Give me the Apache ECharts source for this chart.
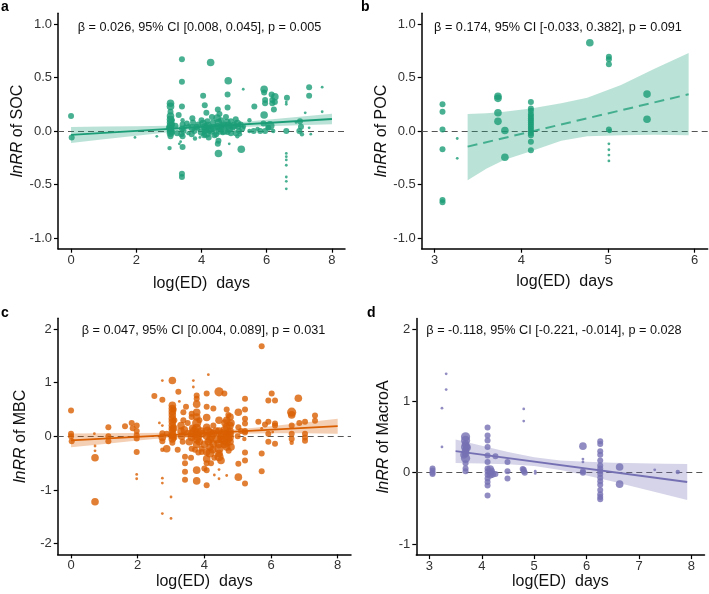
<!DOCTYPE html>
<html>
<head>
<meta charset="utf-8">
<script src="https://cdn.jsdelivr.net/npm/echarts@6/dist/echarts.min.js"></script>
<style>html,body{margin:0;padding:0;background:#fff}#c{width:709px;height:594px}</style>
</head>
<body>
<div id="c"></div>
<script>
// ---------- data (x = log(ED) days, y = lnRR, w = weight class) ----------
const socPts = [
[0,0.14,3],[0.02,-0.06,3],[1.96,-0.06,1],[2.63,-0.05,1],
[3.05,0.26,4],[3.05,0.23,4],[3.05,0.18,3],[3.05,0.14,4],[3.05,0.11,4],[3.05,0.08,4],[3.05,0.05,4],[3.05,0.02,4],[3.05,0.0,4],[3.05,-0.02,4],[3.05,-0.05,3],[3.02,-0.16,2],[3.1,0.06,3],[3.1,-0.01,3],[3.0,0.03,3],[3.12,0.1,2],
[3.2,0.05,3],[3.25,-0.02,3],[3.3,0.15,3],
[3.4,0.67,3],[3.4,0.46,3],[3.4,0.23,3],[3.42,0.1,2],[3.42,0.06,3],[3.4,0.02,3],[3.45,0.0,3],[3.38,-0.03,3],[3.42,-0.05,3],[3.36,-0.1,1],[3.42,-0.15,3],[3.4,-0.4,3],[3.4,-0.43,3],[3.32,-0.12,1],[3.5,0.04,2],
[3.55,0.07,3],[3.62,0.05,2],[3.72,0.12,3],[3.74,0.08,3],[3.72,0.03,4],[3.78,0.0,3],[3.7,-0.03,3],[3.8,-0.07,2],[3.6,-0.02,2],[3.85,0.04,3],[3.9,0.02,2],[3.95,-0.06,1],[3.9,0.06,3],
[4.05,0.33,3],[4.1,0.24,3],[4.0,0.1,3],[4.05,0.07,4],[4.1,0.04,4],[4.12,0.01,4],[4.15,-0.02,5],[4.2,0.05,4],[4.25,0.02,5],[4.18,0.09,3],[4.08,-0.04,3],[4.28,0.64,4],[4.3,0.0,4],[4.22,-0.06,3],[4.35,0.08,3],[4.38,0.03,4],[4.32,0.13,3],[4.0,-0.01,4],[4.15,0.17,3],[4.4,-0.04,3],
[4.5,0.2,3],[4.48,0.12,4],[4.52,0.08,4],[4.5,0.04,4],[4.55,0.0,4],[4.45,-0.03,3],[4.52,-0.09,3],[4.5,-0.12,3],[4.52,-0.21,4],[4.6,0.1,3],[4.62,0.05,3],[4.65,-0.02,2],[4.6,0.02,4],[4.55,0.16,3],[4.7,0.0,4],
[4.82,0.47,4],[4.8,0.34,3],[4.8,0.22,3],[4.75,0.13,3],[4.78,0.08,4],[4.82,0.05,4],[4.85,0.02,4],[4.8,-0.01,3],[4.7,0.06,3],[4.9,0.09,3],[4.85,-0.12,1],[4.95,0.03,3],[4.9,-0.02,3],
[5.05,0.11,3],[5.1,0.07,4],[5.12,0.04,3],[5.15,0.0,3],[5.18,-0.03,2],[5.22,-0.17,4],[5.28,0.39,1],[5.2,0.06,3],[5.25,0.02,3],[5.1,-0.05,2],[5.3,0.04,2],[5.0,0.05,4],[5.05,-0.02,3],
[5.47,0.1,2],[5.47,0.0,2],[5.62,0.23,3],[5.6,0.0,3],[5.72,0.02,2],[5.8,0.0,3],
[5.92,0.39,4],[5.92,0.36,3],[5.95,0.29,3],[5.95,0.26,3],[5.92,0.15,4],[5.9,0.07,3],[5.95,0.0,3],[6.15,0.34,3],[6.17,0.29,3],[6.17,0.26,3],[6.25,0.32,4],[6.25,0.27,3],[6.22,0.2,3],[6.05,0.03,3],[6.2,0.0,2],[6.1,0.05,5],
[6.62,0.31,3],[6.6,0.27,1],[6.6,0.25,1],[6.6,0.0,3],[6.6,-0.21,1],[6.6,-0.24,1],[6.6,-0.27,1],[6.6,-0.32,1],[6.6,-0.43,1],[6.6,-0.47,1],[6.6,-0.54,1],
[6.9,0.08,1],[7.02,0.09,3],[7.05,0.04,3],[7.0,0.0,3],[7.18,0.17,1],[7.08,-0.03,2],[7.3,0.41,3],[7.3,0.33,3],[7.3,0.03,1],[7.35,-0.03,1],[7.7,0.41,1],[7.7,0.18,1]
];
const pocPts = [
[3.09,0.25,3],[3.09,0.18,3],[3.09,0.015,3],[3.09,-0.17,3],[3.09,-0.645,3],[3.09,-0.665,3],
[3.26,-0.07,1],[3.26,-0.255,1],
[3.73,0.325,4],[3.73,0.305,4],[3.73,0.17,4],[3.73,0.09,4],
[3.81,0.005,4],[3.81,-0.245,4],
[4.11,0.27,3],[4.11,0.21,3],[4.11,0.19,3],[4.11,0.16,3],[4.11,0.14,3],[4.11,0.12,3],[4.11,0.1,3],[4.11,0.08,3],[4.11,0.06,3],[4.11,0.04,3],[4.11,0.02,3],[4.11,0.0,3],[4.11,-0.02,3],[4.11,-0.04,3],[4.11,-0.1,3],[4.11,-0.18,3],
[4.79,0.825,4],
[5.01,0.695,3],[5.01,0.67,3],[5.01,0.625,3],[5.01,0.015,3],[5.02,0.0,2],[5.01,-0.12,1],[5.01,-0.175,1],[5.01,-0.225,1],[5.01,-0.28,1],
[5.45,0.345,4],[5.45,0.11,4]
];
const mbcPts = [
[0,0.48,3],[0,0.05,3],[0,0.0,3],[0.02,-0.09,3],
[0.7,0.05,1],[0.72,-0.18,1],[0.72,-0.27,1],[0.72,-0.4,4],[0.72,-1.22,4],
[1.12,0.17,3],[1.12,0.0,3],[1.12,-0.09,3],
[1.62,0.19,3],[1.82,0.25,3],[1.85,0.15,3],
[1.97,0.2,3],[1.97,0.1,3],[1.97,0.02,3],[1.97,-0.04,3],[1.97,-0.29,3],[1.97,-0.71,1],[1.97,-0.79,1],
[2.5,0.75,3],
[2.74,1.04,1],[2.74,0.68,3],[2.74,0.2,1],[2.74,0.06,3],[2.74,-0.02,4],[2.74,-0.09,3],[2.74,-0.25,2],[2.74,-0.78,1],[2.74,-0.87,1],[2.74,-1.44,1],
[2.87,-0.23,4],[2.87,0.05,3],[2.65,0.25,1],
[3.04,1.04,4],[3.04,0.58,4],[3.04,0.52,4],[3.04,0.46,4],[3.04,0.4,4],[3.04,0.33,4],[3.04,0.27,4],[3.04,0.2,4],[3.04,0.14,4],[3.04,0.08,4],[3.04,0.02,4],[3.04,-0.05,4],[3.04,-0.12,3],[3.0,-1.13,1],[3.0,-1.53,1],[3.1,0.3,3],[3.1,-0.02,3],
[3.04,0.0,4],[3.08,0.5,3],[3.08,0.15,4],[3.2,-0.25,3],
[3.22,0.83,3],[3.3,0.1,4],[3.32,0.0,4],[3.35,-0.1,3],[3.37,0.45,3],[3.37,0.3,3],[3.4,0.12,4],[3.42,-0.38,3],[3.42,-0.5,3],[3.42,-0.66,3],[3.42,-0.81,3],[3.25,0.65,1],[3.3,0.2,4],[3.45,0.55,3],
[3.5,0.05,4],[3.55,-0.1,4],[3.5,0.25,3],[3.6,-0.4,3],
[3.62,0.42,3],[3.62,0.36,3],[3.62,0.05,4],[3.62,-0.02,4],[3.62,-0.23,3],[3.67,0.92,1],[3.67,1.04,1],[3.65,0.15,4],
[3.77,0.76,3],[3.77,0.7,3],[3.77,0.6,4],[3.77,0.45,4],[3.77,0.36,4],[3.77,0.25,5],[3.77,0.15,5],[3.77,0.05,5],[3.77,-0.05,5],[3.77,-0.15,4],[3.77,-0.63,4],[3.77,-0.83,4],[3.85,0.3,3],[3.82,-0.3,3],[3.72,-0.25,3],
[3.7,0.1,5],[3.8,0.0,5],[3.85,-0.1,4],[3.95,0.05,4],
[3.92,-0.23,3],[3.92,-0.29,3],[3.9,0.1,4],
[4.0,-0.15,4],[4.0,-0.6,3],
[4.07,0.8,3],[4.07,0.55,3],[4.07,0.35,4],[4.07,0.17,4],[4.07,0.0,4],[4.07,-0.29,4],[4.07,-0.42,4],[4.07,-0.5,3],[4.07,-0.63,3],[4.07,-0.91,3],[4.12,1.15,1],[4.12,-0.1,4],[4.17,0.08,4],[4.17,-0.06,4],[4.17,-0.2,4],[4.17,-0.31,5],
[4.1,0.1,5],[4.2,0.0,5],[4.25,-0.25,4],[4.2,-0.5,3],
[4.27,0.52,3],[4.27,0.2,3],[4.27,0.05,4],[4.27,-0.14,4],[4.3,-0.4,3],[4.3,-0.72,1],
[4.35,0.1,4],[4.38,-0.05,5],
[4.44,0.83,5],[4.44,0.3,4],[4.44,0.1,4],[4.44,-0.14,5],[4.44,-0.23,5],[4.44,-0.32,4],[4.44,-0.38,5],[4.44,-0.62,1],[4.44,-0.79,1],[4.5,0.0,4],[4.5,-0.05,4],[4.5,-0.45,4],
[4.55,0.05,5],[4.6,-0.15,4],[4.62,0.25,4],[4.7,-0.05,5],[4.75,0.05,5],[4.8,-0.2,4],[4.8,0.25,4],
[4.6,0.8,3],[4.67,0.5,3],[4.67,0.3,4],[4.67,0.18,4],[4.67,0.05,4],[4.67,0.0,4],[4.67,-0.12,4],[4.67,-0.2,4],[4.67,-0.73,1],[4.72,0.4,3],[4.77,0.36,4],[4.77,0.2,4],[4.77,0.1,4],[4.77,-0.02,4],[4.77,-0.1,4],[4.73,-0.27,3],[4.6,0.12,4],[4.57,-0.08,4],
[5.02,0.45,4],[5.02,0.17,3],[5.0,0.0,3],[5.02,-0.51,3],[5.02,-0.76,4],[5.1,0.1,3],
[5.22,0.7,3],[5.22,0.5,3],[5.22,0.33,3],[5.22,0.24,3],[5.22,0.1,3],[5.22,0.07,3],[5.22,-0.3,3],[5.22,-0.45,3],[5.22,-0.88,3],[5.2,-0.05,2],
[5.62,0.27,3],[5.72,1.68,3],[5.72,-0.32,3],[5.72,-0.65,3],[5.72,0.15,1],[5.82,0.22,3],[5.92,0.67,3],[5.92,0.27,3],[5.92,0.05,3],[5.92,-0.1,3],[6.02,0.8,3],[6.12,0.67,3],[6.12,0.24,3],[6.12,0.2,3],[6.12,-0.14,3],[6.05,0.08,1],
[6.62,0.45,5],[6.62,0.4,4],[6.62,0.2,3],[6.62,0.05,3],[6.62,-0.05,3],[6.62,-0.12,2],[6.82,0.71,4],[6.85,0.25,3],[7.02,0.27,3],[7.02,0.05,3],[7.02,-0.02,3],[7.02,-0.08,3],[7.32,0.39,3],[7.32,0.29,3]
];
const macroPts = [
[3.06,0.06,3],[3.06,0.03,3],[3.06,0.0,3],[3.06,-0.02,3],
[3.24,0.9,1],[3.24,0.36,1],[3.32,1.38,1],[3.32,1.16,1],
[3.69,0.5,5],[3.69,0.45,5],[3.69,0.4,4],[3.69,0.36,5],[3.69,0.31,4],[3.69,0.27,4],[3.69,0.2,5],[3.69,0.13,3],[3.69,0.06,3],[3.69,0.02,3],[3.72,0.35,4],[3.66,0.25,4],
[4.11,0.63,3],[4.11,0.52,3],[4.11,0.45,3],[4.11,0.36,3],[4.11,0.24,3],[4.11,0.15,3],[4.11,0.06,3],[4.11,0.02,3],[4.11,-0.03,3],[4.11,-0.08,3],[4.11,-0.13,3],[4.11,-0.18,3],[4.11,-0.32,3],
[4.16,0.05,4],[4.16,0.0,4],[4.16,-0.03,4],[4.18,0.02,4],[4.2,-0.02,4],[4.26,0.23,3],[4.26,-0.02,3],
[4.49,0.15,3],[4.49,0.02,3],[4.49,-0.08,3],
[4.8,0.89,1],[4.8,0.72,1],[4.78,0.05,3],[4.8,0.02,3],[4.82,0.0,3],[4.8,0.04,3],
[5.02,0.02,1],[5.02,-0.01,1],
[5.93,0.37,4],[5.93,0.19,1],[5.93,0.15,1],[5.93,0.02,3],[5.93,0.0,3],
[6.26,0.44,3],[6.26,0.4,3],[6.26,0.3,3],[6.26,0.25,3],[6.26,0.17,3],[6.26,0.1,3],[6.26,0.06,3],[6.26,0.02,3],[6.26,-0.02,3],[6.26,-0.07,3],[6.26,-0.12,3],[6.26,-0.17,3],[6.26,-0.24,3],[6.26,-0.3,3],[6.26,-0.34,3],[6.26,-0.37,3],
[6.63,0.08,4],[6.63,-0.16,4],
[7.3,0.04,1],[7.74,0.01,2]
];

// fitted lines (start, end)
const socFit = [[0,-0.037],[8,0.112]];
const pocFit = [[3.38,-0.146],[5.93,0.343]];
const mbcFit = [[0,-0.075],[8,0.19]];
const macroFit = [[3.5,0.3],[7.92,-0.13]];

// 95% confidence ribbons
const socBandX  = [0,1,2,3,4.3,5,6,7,8];
const socBandLo = [-0.112,-0.078,-0.045,-0.011,0.023,0.034,0.045,0.053,0.062];
const socBandHi = [0.038,0.042,0.045,0.049,0.063,0.078,0.105,0.133,0.162];
const pocBandX  = [3.38,3.6,3.8,4.11,4.46,4.76,5.15,5.53,5.93];
const pocBandLo = [-0.46,-0.35,-0.27,-0.19,-0.09,-0.05,-0.04,-0.035,-0.04];
const pocBandHi = [0.16,0.165,0.18,0.21,0.26,0.31,0.43,0.58,0.73];
const mbcBandX  = [0,1,2,3,4,5,6,7,8];
const mbcBandLo = [-0.205,-0.142,-0.079,-0.021,0.022,0.05,0.058,0.056,0.05];
const mbcBandHi = [0.055,0.058,0.061,0.069,0.092,0.13,0.188,0.256,0.33];
const macroBandX  = [3.5,4,4.5,5,5.5,6,6.5,7,7.5,7.92];
const macroBandLo = [0.136,0.127,0.116,0.092,0.039,-0.038,-0.123,-0.212,-0.303,-0.382];
const macroBandHi = [0.464,0.375,0.29,0.216,0.171,0.152,0.139,0.132,0.125,0.122];

// tick labels
const xTicksAC = [0,2,4,6,8];
const xTicksB = [3,4,5,6];
const xTicksD = [3,4,5,6,7,8];
const yTicksAB = [-1,-0.5,0,0.5,1];
const yTicksC = [-2,-1,0,1,2];
const yTicksD = [-1,0,1,2];

// texts
const yNames = ['SOC','POC','MBC','MacroA'];
const notes = [
 'β = 0.026, 95% CI [0.008, 0.045], p = 0.005',
 'β = 0.174, 95% CI [-0.033, 0.382], p = 0.091',
 'β = 0.047, 95% CI [0.004, 0.089], p = 0.031',
 'β = -0.118, 95% CI [-0.221, -0.014], p = 0.028'
];
const letters = ['a','b','c','d'];
const xTitle = 'log(ED)  days';

// ---------- layout / style ----------
const FONT = '"Liberation Sans", Arial, Helvetica, sans-serif';
const panels = [
 {pts:socPts, fit:socFit, band:[socBandX,socBandLo,socBandHi], color:'#1b9e77', dashed:false,
  grid:{left:58,top:13.3,width:287,height:235.4}, xr:[-0.4,8.4], yr:[-1.1,1.1], xt:xTicksAC, yt:yTicksAB, dec:1,
  xGap:27, yGap:30, nx:199.5, ny:27, lx:1, ly:7},
 {pts:pocPts, fit:pocFit, band:[pocBandX,pocBandLo,pocBandHi], color:'#1b9e77', dashed:true,
  grid:{left:421.7,top:13.3,width:286,height:235.4}, xr:[2.85,6.15], yr:[-1.1,1.1], xt:xTicksB, yt:yTicksAB, dec:1,
  xGap:25, yGap:29, nx:558, ny:27, lx:361, ly:7},
 {pts:mbcPts, fit:mbcFit, band:[mbcBandX,mbcBandLo,mbcBandHi], color:'#d95f02', dashed:false,
  grid:{left:57.7,top:318.3,width:293.3,height:236.1}, xr:[-0.4,8.4], yr:[-2.2,2.2], xt:xTicksAC, yt:yTicksC, dec:0,
  xGap:18, yGap:29, nx:203.5, ny:330, lx:1, ly:313},
 {pts:macroPts, fit:macroFit, band:[macroBandX,macroBandLo,macroBandHi], color:'#7570b3', dashed:false,
  grid:{left:416.3,top:318.6,width:288.2,height:236.5}, xr:[2.75,8.25], yr:[-1.15,2.15], xt:xTicksD, yt:yTicksD, dec:0,
  xGap:17, yGap:25, nx:554, ny:330, lx:367, ly:313}
];

const grids=[], xAxes=[], yAxes=[], series=[], graphics=[];
panels.forEach((p,i)=>{
  grids.push(Object.assign({containLabel:false}, p.grid));
  const axisCommon = {
    axisLine:{show:true,onZero:false,lineStyle:{color:'#000',width:1.5}},
    axisTick:{show:true,inside:false,length:4,lineStyle:{color:'#000',width:1.2}},
    splitLine:{show:false}
  };
  xAxes.push(Object.assign({}, axisCommon, {
    type:'value', gridIndex:i, min:p.xr[0], max:p.xr[1],
    axisTick:Object.assign({}, axisCommon.axisTick, {customValues:p.xt}),
    axisLabel:{customValues:p.xt, margin:5, fontSize:13, color:'#333', fontFamily:FONT},
    name:xTitle, nameLocation:'middle', nameGap:p.xGap,
    nameTextStyle:{fontSize:16, color:'#111', fontFamily:FONT}
  }));
  yAxes.push(Object.assign({}, axisCommon, {
    type:'value', gridIndex:i, min:p.yr[0], max:p.yr[1],
    axisTick:Object.assign({}, axisCommon.axisTick, {customValues:p.yt}),
    axisLabel:{customValues:p.yt, margin:6, fontSize:13, color:'#333', fontFamily:FONT,
      formatter:(v)=>Number(v).toFixed(p.dec)},
    name:'{i|lnRR} of '+yNames[i], nameLocation:'middle', nameGap:p.yGap, nameRotate:90,
    nameTextStyle:{fontSize:16, color:'#111', fontFamily:FONT,
      rich:{i:{fontStyle:'italic', fontSize:16, color:'#111', fontFamily:FONT}}}
  }));
  // points
  series.push({
    type:'scatter', xAxisIndex:i, yAxisIndex:i, z:2,
    data:p.pts.map(d=>[d[0],d[1],d[2]]),
    symbolSize:(v)=>1.2+1.6*v[2],
    itemStyle:{color:p.color, opacity:0.8},
    markLine:{silent:true, symbol:'none', z:1, animation:false,
      label:{show:false}, lineStyle:{color:'#555', width:1, type:[6,4]},
      data:[{yAxis:0}]}
  });
  // ribbon
  const bx=p.band[0], blo=p.band[1], bhi=p.band[2];
  const bandData = bx.map((x,k)=>[x, blo[k], bhi[k]]);
  series.push({
    type:'custom', xAxisIndex:i, yAxisIndex:i, z:3, silent:true,
    data:bandData,
    encode:{x:0, y:[1,2]},
    renderItem:(params, api)=>{
      if (params.dataIndex!==0) return;
      const up = bandData.map(d=>api.coord([d[0],d[2]]));
      const lo = bandData.map(d=>api.coord([d[0],d[1]])).reverse();
      return {type:'polygon', shape:{points:up.concat(lo)},
        style:{fill:p.color, opacity:0.3}};
    }
  });
  // fit line
  series.push({
    type:'line', xAxisIndex:i, yAxisIndex:i, z:4, silent:true,
    data:p.fit, showSymbol:false, symbol:'none',
    lineStyle:{color:p.color, width:p.dashed?2:1.8, type:p.dashed?[10,6]:'solid', opacity:p.dashed?0.75:1}
  });
  graphics.push({type:'text', x:p.nx, y:p.ny, silent:true,
    style:{text:notes[i], font:'12.7px '+FONT, fill:'#111', textAlign:'center', textVerticalAlign:'middle'}});
  graphics.push({type:'text', x:p.lx, y:p.ly, silent:true,
    style:{text:letters[i], font:'bold 14px '+FONT, fill:'#000', textAlign:'left', textVerticalAlign:'middle'}});
});

const chart = echarts.init(document.getElementById('c'), null, {renderer:'canvas'});
chart.setOption({
  animation:false,
  backgroundColor:'#fff',
  grid:grids, xAxis:xAxes, yAxis:yAxes, series:series, graphic:graphics
});
</script>
</body>
</html>
